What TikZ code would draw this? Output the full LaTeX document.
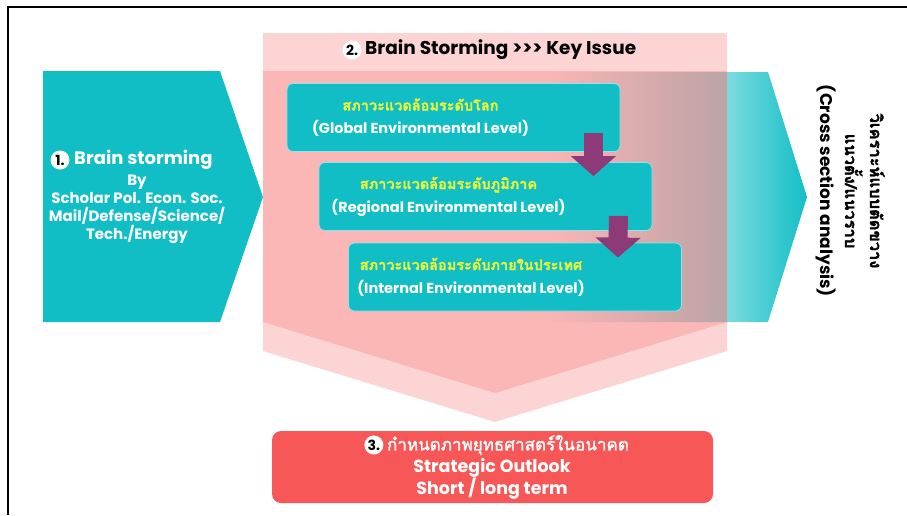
\documentclass[tikz,border=0pt]{standalone}
\usepackage{fontspec}
\setmainfont{Poppins}
\newfontfamily\thaifont[Script=Thai,FakeBold=1.6]{Loma}
\usetikzlibrary{arrows.meta, calc, positioning}

\definecolor{boxteal}{HTML}{12BEC6}
\definecolor{keypink}{RGB}{248,112,112}
\definecolor{thaiyel}{HTML}{E6F43A}
\definecolor{downpurple}{HTML}{8D3B78}
\definecolor{outred}{HTML}{F85757}

% fade of the right arrow, path box maps to 25bp..75bp
\pgfdeclarehorizontalshading{tealfade}{100bp}{color(0bp)=(white); color(30bp)=(white); color(61bp)=(boxteal!55); color(75bp)=(boxteal); color(100bp)=(boxteal)}

\begin{document}
\begin{tikzpicture}[x=1pt,y=-1pt,
    tealbox/.style={draw=white!55!boxteal, line width=0.8pt, fill=boxteal, rounded corners=6pt, minimum width=333pt, minimum height=68pt, inner sep=0pt},
    leveltxt/.style={align=center, text=white, font=\bfseries\fontsize{14.5}{23}\selectfont},
    numdot/.style={circle, fill=white, inner sep=0pt, minimum size=19pt, font=\bfseries\fontsize{14}{14}\selectfont},
    downarrow/.style={draw=downpurple, line width=19pt, -{Triangle[width=44pt,length=20pt]}},
    pinkchev/.style={fill=keypink, fill opacity=0.3},
    whitetxt/.style={text=white, font=\bfseries\fontsize{15}{18}\selectfont, align=center}
]
    \useasboundingbox (0,0) rectangle (907,515);
    \draw[line width=2.5pt] (8,515) -- (8,7) -- (907,7);

    % arrows left and right
    \shade[shading=tealfade] (520,72) -- (768,72) -- (807,197) -- (768,322) -- (520,322) -- cycle;
    \fill[boxteal] (43,71) -- (220,71) -- (263,197) -- (220,322) -- (43,322) -- cycle;

    % key issue chevron
    \fill[pinkchev] (263,33) -- (727,33) -- (727,351) -- (495,422) -- (263,351) -- cycle;
    \fill[pinkchev] (263,71) -- (727,71) -- (727,322) -- (495,393) -- (263,322) -- cycle;

    \node[tealbox] (glob) at (453.5,117.5) {};
    \node[tealbox] (regi) at (485.5,196.5) {};
    \node[tealbox] (inte) at (515,277) {};

    \node[leveltxt] (globtxt) at ([xshift=-33pt]glob.center) {{\thaifont\fontsize{14.5}{14}\selectfont\color{thaiyel}สภาวะแวดล้อมระดับโลก}\\(Global Environmental Level)};
    \node[leveltxt] (regitxt) at ([xshift=-37pt]regi.center) {{\thaifont\fontsize{14.5}{14}\selectfont\color{thaiyel}สภาวะแวดล้อมระดับภูมิภาค}\\(Regional Environmental Level)};
    \node[leveltxt] (intetxt) at ([xshift=-44pt]inte.center) {{\thaifont\fontsize{14.5}{14}\selectfont\color{thaiyel}สภาวะแวดล้อมระดับภายในประเทศ}\\(Internal Environmental Level)};

    \draw[downarrow] ($(glob.south east)+(-27,-19)$) -- ($(regi.north east)+(-59,14)$);
    \draw[downarrow] ($(regi.south east)+(-34,-15)$) -- ($(inte.north east)+(-64,15)$);

    % headings
    \node[numdot] (n2) at (352,50) {2.};
    \node[right=0pt of n2, font=\bfseries\fontsize{18.5}{18}\selectfont] (keyhead) {Brain Storming >{}>{}> Key Issue};

    \node[numdot] (n1) at (60,160) {1.};
    \node[right=1pt of n1, text=white, font=\bfseries\fontsize{18}{18}\selectfont] (brain) {Brain storming};
    \node[whitetxt] (bytxt) at (137,209) {By\\Scholar Pol. Econ. Soc.\\Mail/Defense/Science/\\Tech./Energy};

    \node[rotate=-90, align=center, font=\bfseries\fontsize{17}{25}\selectfont] (cross) at (850,191) {{\thaifont\fontsize{16.5}{25}\selectfont วิเคราะห์แบบตัดขวาง}\\{\thaifont\fontsize{16.5}{25}\selectfont แนวตั้ง/แนวราบ}\\(Cross section analysis)};

    % outlook
    \node[fill=outred, rounded corners=9pt, minimum width=441pt, minimum height=72pt] (outl) at (492.5,467) {};
    \node[text=white, font=\thaifont\fontsize{17}{16}\selectfont] (outth) at (508,445) {กำหนดภาพยุทธศาสตร์ในอนาคต};
    \node[numdot, left=0pt of outth] (n3) {3.};
    \node[whitetxt, font=\bfseries\fontsize{17.5}{22}\selectfont] (outen) at (492,479) {Strategic Outlook\\Short / long term};
\end{tikzpicture}
\end{document}
